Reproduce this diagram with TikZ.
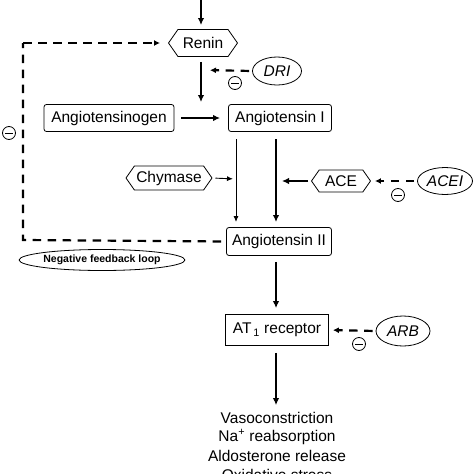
\documentclass[tikz,border=0pt]{standalone}
\usepackage{fontspec}
\setmainfont{Liberation Sans}
\usetikzlibrary{arrows.meta,shapes.geometric,shapes.symbols}
\begin{document}
\begin{tikzpicture}[x=1pt,y=-1pt,
  every node/.style={font=\fontsize{15.5}{19}\selectfont, inner sep=0pt},
  box/.style={draw, line width=0.8pt, rounded corners=2.5pt},
  sqbox/.style={draw, line width=0.8pt},
  hexa/.style={draw, line width=0.8pt, signal, signal to=west and east, signal pointer angle=110},
  drug/.style={draw, line width=0.8pt, ellipse, font=\fontsize{15.5}{19}\selectfont\itshape},
  minusc/.style={draw, line width=0.8pt, circle, minimum size=13pt,
    path picture={\draw[line width=1pt] ([xshift=-3.6pt]path picture bounding box.center) -- ([xshift=3.6pt]path picture bounding box.center);}},
  thickarr/.style={line width=2pt, -{Latex[length=7pt,width=6.5pt]}},
  thinarr/.style={line width=0.9pt, -{Latex[length=6pt,width=5pt]}},
  inhib/.style={line width=2.2pt, dash pattern=on 8.5pt off 6.5pt, -{Latex[length=6pt,width=6pt]}},
  fb/.style={line width=2.2pt, dash pattern=on 8.5pt off 6.5pt}
]
\clip (0,0) rectangle (474,474);
\fill[white] (0,0) rectangle (474,474);

% nodes
\node[hexa, minimum width=69pt, minimum height=27pt] (renin) at (203,43) {Renin};
\node[drug, minimum width=49pt, minimum height=28pt] (dri) at (277,71) {DRI};
\node[box, minimum width=130pt, minimum height=27pt] (ago) at (109,118) {Angiotensinogen};
\node[box, minimum width=103pt, minimum height=27pt] (a1) at (280,118) {Angiotensin I};
\node[hexa, minimum width=86pt, minimum height=24pt] (chy) at (169,178) {Chymase};
\node[hexa, minimum width=59pt, minimum height=22pt] (ace) at (341,181) {ACE};
\node[drug, minimum width=55pt, minimum height=27pt] (acei) at (445,181) {ACEI};
\node[box, minimum width=105pt, minimum height=28pt] (a2) at (279,241.5) {Angiotensin II};
\node[draw, line width=0.8pt, ellipse, minimum width=137pt, minimum height=21pt, font=\fontsize{10.5}{12}\selectfont\bfseries] (nfl) at (102,260) {Negative feedback loop};
\node[sqbox, minimum width=103pt, minimum height=31pt] (at1) at (277,330) {AT\textsubscript{\,1} receptor};
\node[drug, minimum width=54pt, minimum height=30pt] (arb) at (403,331) {ARB};
\node (o1) at (277,418) {Vasoconstriction};
\node (o2) at (277,437) {Na\textsuperscript{+} reabsorption};
\node (o3) at (277,456) {Aldosterone release};
\node (o4) at (277,475) {Oxidative stress};

\node[minusc] (m0) at (9,133) {};
\node[minusc] (m1) at (235,83) {};
\node[minusc] (m2) at (398,195) {};
\node[minusc] (m3) at (359,344) {};

% coordinates
\coordinate (top) at (201,0);
\coordinate (conv) at (201,118);
\coordinate (fbA) at (23,240);
\coordinate (fbB) at (23,43);
\coordinate (thinL) at (236,139);
\coordinate (thinE) at (236,227);
\coordinate (thickL) at (276,139);
\coordinate (thickE) at (276,227);
\coordinate (thinMid) at (236,179);
\coordinate (thickMid) at (276,181);
\coordinate (dr) at (201,70);

% connectors
\draw[thickarr] (top) -- (201,25);
\draw[thickarr, shorten >=16pt] (renin.south -| conv) ++(0,5) -- (conv);
\draw[thickarr, shorten <=7pt, shorten >=8pt] (ago.east) -- (a1.west);
\draw[thinarr, shorten >=5pt] (thinL) -- (thinE);
\draw[thickarr, shorten >=5pt] (thickL) -- (thickE);
\draw[thinarr, shorten <=3pt, shorten >=3pt] (chy.east) -- (thinMid);
\draw[thickarr, shorten <=3pt, shorten >=6pt] (ace.west) -- (thickMid);
\draw[thickarr, shorten <=6pt, shorten >=6pt] (a2.south -| thickL) -- (at1.north -| thickL);
\draw[thickarr, shorten <=7pt, shorten >=7pt] (at1.south -| thickL) -- (o1.north -| thickL);

\draw[fb, shorten <=5pt] (a2.west) -- (fbA) -- (fbB);
\draw[inhib, shorten >=8pt] (fbB) -- (renin.west);
\draw[inhib, shorten <=3pt, shorten >=9pt] (dri.west) -- (dr);
\draw[inhib, shorten <=3pt, shorten >=4pt] (acei.west) -- (ace.east);
\draw[inhib, shorten <=3pt, shorten >=4pt] (arb.west) -- (at1.east);
\end{tikzpicture}
\end{document}
